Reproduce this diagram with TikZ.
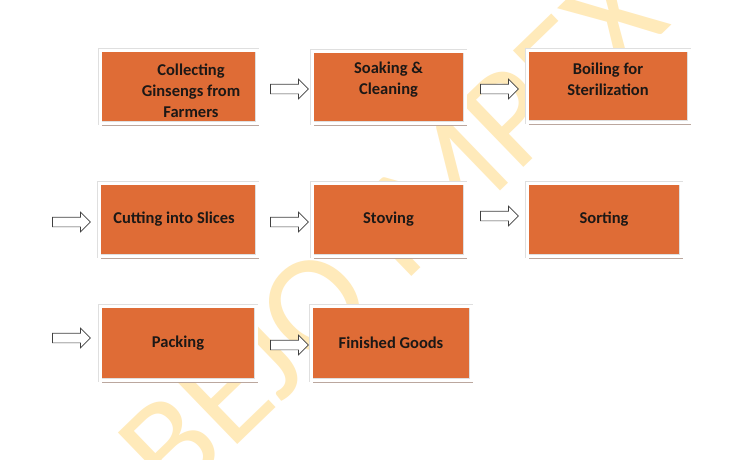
\documentclass[tikz,border=0pt]{standalone}
\usepackage{fontspec}
\setmainfont{Carlito}
\usetikzlibrary{shapes.arrows,shadows}
\definecolor{orng}{RGB}{223,108,54}
\definecolor{wmark}{RGB}{255,234,186}
\definecolor{shad}{RGB}{180,158,148}
\definecolor{txt}{RGB}{28,24,22}
\tikzset{
  stepbox/.style={fill=orng, draw=gray!25, double=white, double distance=3pt, line width=0.4pt,
    inner sep=0pt, text=txt, align=center, font=\bfseries\fontsize{16.5}{21}\selectfont,
    drop shadow={shadow xshift=2pt, shadow yshift=-3pt, fill=shad, opacity=0.9}},
  steptext/.style={text=txt, align=center, inner sep=0pt, font=\bfseries\fontsize{16.5}{21}\selectfont},
  blockarrow/.style={single arrow, draw=black!75, fill=white, line width=0.7pt,
    minimum height=38pt, inner sep=4.5pt, single arrow head extend=5pt,
    single arrow tip angle=90, anchor=center}
}
\begin{document}
\begin{tikzpicture}[x=1pt,y=-1pt]
\useasboundingbox (0,0) rectangle (750,459);
\fill[white] (0,0) rectangle (750,459);
% watermark
\node[text=wmark, rotate=44, font=\fontsize{142}{142}\selectfont, inner sep=0pt] (wm) at (392,232) {BEJO IMPEX};
% boxes
\node[stepbox, minimum width=157pt, minimum height=73pt] (b1) at (178.5,86.5) {};
\node[steptext] (t1) at (191,91) {Collecting\\Ginsengs from\\Farmers};
\node[stepbox, minimum width=153pt, minimum height=72pt] (b2) at (388.5,87) {};
\node[steptext] (t2) at (388.5,80) {Soaking \&\\Cleaning};
\node[stepbox, minimum width=162pt, minimum height=72pt] (b3) at (608,86) {};
\node[steptext] (t3) at (608,79) {Boiling for\\Sterilization};
\node[stepbox, minimum width=158pt, minimum height=73pt] (b4) at (178,219.5) {\hspace{-8pt}Cutting into Slices};
\node[stepbox, minimum width=153pt, minimum height=73pt] (b5) at (388.5,219.5) {Stoving};
\node[stepbox, minimum width=154pt, minimum height=73pt] (b6) at (604,219.5) {Sorting};
\node[stepbox, minimum width=156pt, minimum height=74pt] (b7) at (178,343) {Packing};
\node[stepbox, minimum width=160pt, minimum height=74pt] (b8) at (391,343) {Finished Goods};
% arrows
\node[blockarrow] (a12) at (287,89) {};
\node[blockarrow] (a23) at (497,89) {};
\node[blockarrow] (a04) at (69,222) {};
\node[blockarrow] (a45) at (287,222) {};
\node[blockarrow] (a56) at (497,216) {};
\node[blockarrow] (a07) at (69,338) {};
\node[blockarrow] (a78) at (287,345) {};
\end{tikzpicture}
\end{document}
